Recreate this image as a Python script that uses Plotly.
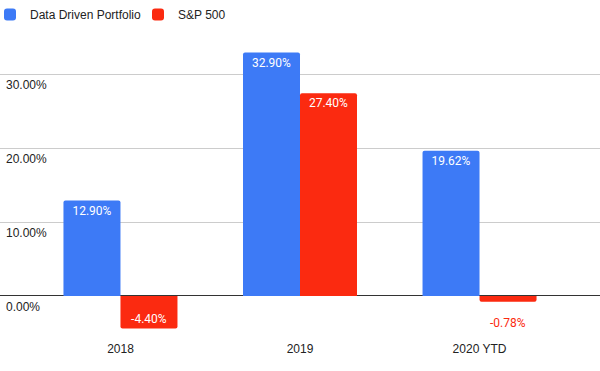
import plotly.graph_objects as go

categories = ["2018", "2019", "2020 YTD"]
portfolio = [12.90, 32.90, 19.62]
sp500 = [-4.40, 27.40, -0.78]
series_names = ["Data Driven Portfolio", "S&P 500"]
tick_values = [0, 10, 20, 30]
tick_labels = ["0.00%", "10.00%", "20.00%", "30.00%"]

BLUE = "#3d7af6"
RED = "#fb2a10"
W, H = 600, 371
XRANGE = [-0.671, 2.671]
BARGAP = 0.365

fig = go.Figure()
fig.add_trace(go.Bar(
    x=categories, y=portfolio, name=series_names[0],
    marker=dict(color=BLUE, line=dict(width=0)),
    text=[f"{v:.2f}%" for v in portfolio],
    textposition="inside", insidetextanchor="end",
    textfont=dict(family="Roboto", size=12, color="white"),
    cliponaxis=False,
))
small = [abs(v) < 2 for v in sp500]
fig.add_trace(go.Bar(
    x=categories, y=sp500, name=series_names[1],
    marker=dict(color=RED, line=dict(width=0)),
    text=["" if s else f"{v:.2f}%" for v, s in zip(sp500, small)],
    textposition="inside", insidetextanchor="end",
    textfont=dict(family="Roboto", size=12, color="white"),
    cliponaxis=False,
))
# labels for bars too short to hold text: placed below the bar
px_per_cat = W / (XRANGE[1] - XRANGE[0])
half_bar = (1 - BARGAP) / 2 * px_per_cat / 2
for c, v, s in zip(categories, sp500, small):
    if s:
        fig.add_annotation(x=c, xref="x", y=v, yref="y", text=f"{v:.2f}%",
                           showarrow=False, xanchor="center", yanchor="top",
                           xshift=half_bar, yshift=-12,
                           font=dict(family="Roboto", size=12, color=RED))

for v, lab in zip(tick_values, tick_labels):
    fig.add_annotation(x=0.0, xref="paper", y=v, yref="y", text=lab,
                       showarrow=False, xanchor="left", yanchor="top", yshift=-2, xshift=4,
                       font=dict(family="Arial", size=12, color="#222222"))

fig.update_layout(
    width=W, height=H,
    margin=dict(l=0, r=0, t=40, b=31, autoexpand=False),
    paper_bgcolor="white", plot_bgcolor="white",
    font=dict(family="Arial", size=12, color="#222222"),
    barmode="group", bargap=BARGAP, bargroupgap=0.0,
    barcornerradius=2,
    showlegend=True,
    legend=dict(orientation="h", x=0, y=1.0, xanchor="left", yanchor="top",
                xref="container", yref="container", indentation=-10,
                font=dict(family="Arial", size=12, color="#222222"),
                entrywidth=113, entrywidthmode="pixels",
                itemwidth=30, bgcolor="rgba(0,0,0,0)"),
    xaxis=dict(range=XRANGE, showgrid=False, ticks="", showline=False,
               automargin=False,
               tickfont=dict(family="Arial", size=12, color="#222222")),
    yaxis=dict(range=[-5.95, 34.6], tickvals=tick_values, showticklabels=False,
               automargin=False,
               showgrid=True, gridcolor="#cccccc", gridwidth=1,
               zeroline=True, zerolinecolor="#333333", zerolinewidth=1,
               showline=False),
)

fig.write_html("out.html", config={"displayModeBar": False},
               post_script="document.body.style.margin='0';")
